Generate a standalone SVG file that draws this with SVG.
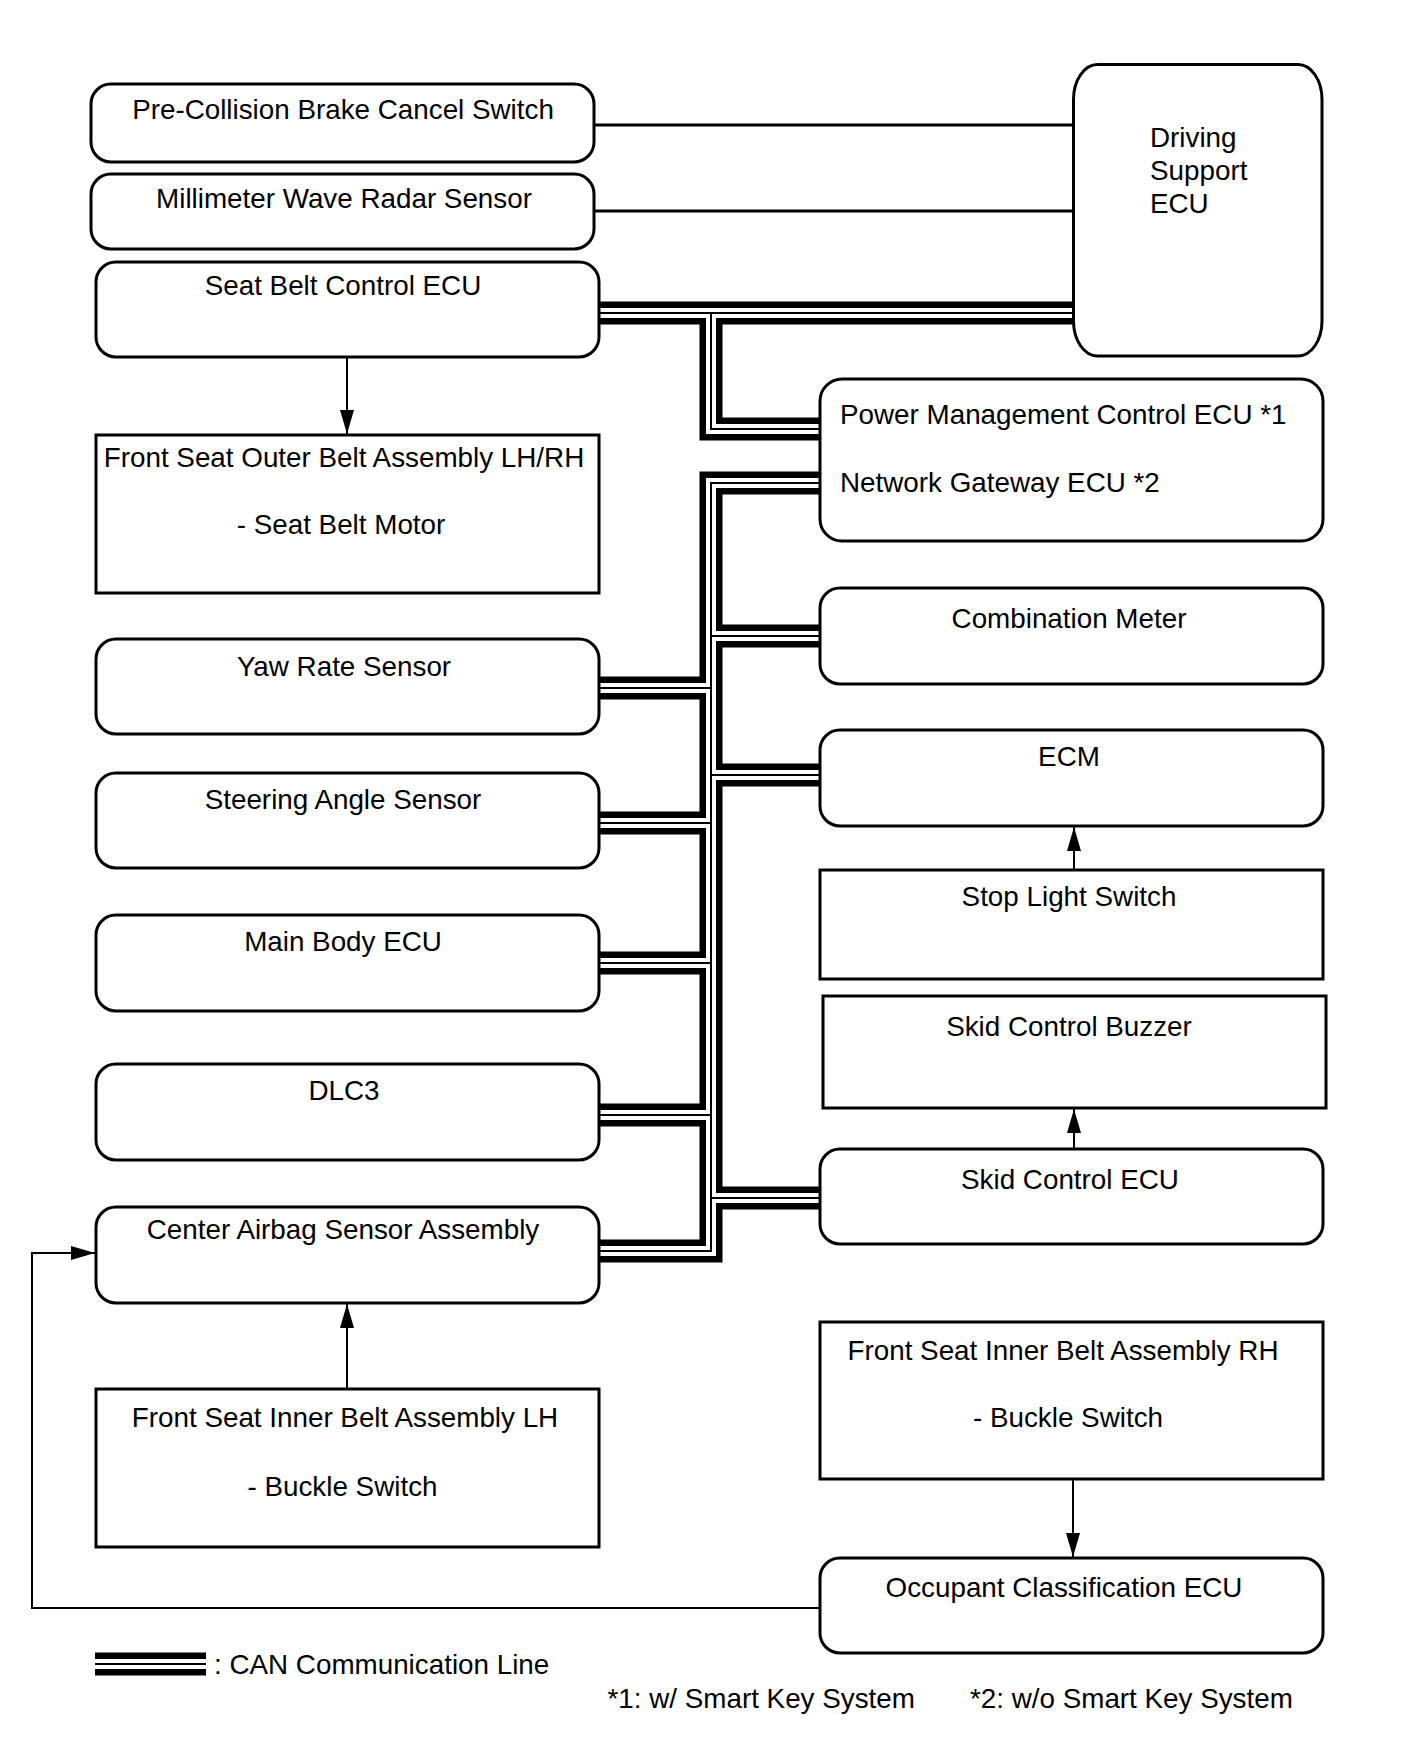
<svg xmlns="http://www.w3.org/2000/svg" xmlns:xlink="http://www.w3.org/1999/xlink" width="1424" height="1763" viewBox="0 0 1424 1763">
<style>
.box{fill:#fff;stroke:#000;stroke-width:3}
.t{font-family:"Liberation Sans",Arial,Helvetica,sans-serif;font-size:27.8px;fill:#000}
.c{text-anchor:middle}
.link{fill:none;stroke:#000;stroke-width:3}
.arr{fill:none;stroke:#000;stroke-width:2}
.canB{fill:none;stroke:#000;stroke-width:23;stroke-linejoin:miter}
.canW{fill:none;stroke:#fff;stroke-width:10;stroke-linejoin:miter}
.canT{fill:none;stroke:#000;stroke-width:2;stroke-linejoin:miter}
</style>
<defs>
<marker id="ah" markerUnits="userSpaceOnUse" viewBox="0 0 24 14" refX="24" refY="7" markerWidth="24" markerHeight="14" orient="auto">
<path d="M0,0 L24,7 L0,14 Z" fill="#000"/>
</marker>
<path id="bus" d="M599,313 H1074 M711,313 V429 H820 M820,483 H711 V1251 H599 M711,636 H820 M711,775 H820 M711,1198 H820 M711,688 H599 M711,823 H599 M711,963 H599 M711,1115 H599 M95,1664 H206"/>
</defs>
<rect width="1424" height="1763" fill="#fff"/>
<g id="connectors">
<use xlink:href="#bus" class="canB"/>
<use xlink:href="#bus" class="canW"/>
<use xlink:href="#bus" class="canT"/>
<line class="link" x1="594" y1="125" x2="1074" y2="125"/>
<line class="link" x1="594" y1="211" x2="1074" y2="211"/>
<line class="arr" x1="347" y1="357" x2="347" y2="434" marker-end="url(#ah)"/>
<line class="arr" x1="347" y1="1389" x2="347" y2="1304" marker-end="url(#ah)"/>
<line class="arr" x1="1074" y1="870" x2="1074" y2="827" marker-end="url(#ah)"/>
<line class="arr" x1="1074" y1="1149" x2="1074" y2="1109" marker-end="url(#ah)"/>
<line class="arr" x1="1073" y1="1479" x2="1073" y2="1557" marker-end="url(#ah)"/>
<path class="arr" d="M820,1608 H32 V1253 H95" marker-end="url(#ah)"/>
</g>
<g id="pre-collision"><rect class="box" x="91" y="84" width="503" height="78" rx="20"/><text class="t c" x="343" y="118.5">Pre-Collision Brake Cancel Switch</text></g>
<g id="millimeter"><rect class="box" x="91" y="174" width="503" height="75" rx="20"/><text class="t c" x="344" y="208">Millimeter Wave Radar Sensor</text></g>
<g id="seatbelt-ecu"><rect class="box" x="96" y="262" width="503" height="95" rx="20"/><text class="t c" x="343" y="295">Seat Belt Control ECU</text></g>
<g id="outer-belt"><rect class="box" x="96" y="435" width="503" height="158"/><text class="t c" x="344" y="467">Front Seat Outer Belt Assembly LH/RH</text><text class="t c" x="341" y="534">- Seat Belt Motor</text></g>
<g id="yaw"><rect class="box" x="96" y="639" width="503" height="95" rx="20"/><text class="t c" x="344" y="675.5">Yaw Rate Sensor</text></g>
<g id="steering"><rect class="box" x="96" y="773" width="503" height="95" rx="20"/><text class="t c" x="343" y="809">Steering Angle Sensor</text></g>
<g id="main-body"><rect class="box" x="96" y="915" width="503" height="96" rx="20"/><text class="t c" x="343" y="951">Main Body ECU</text></g>
<g id="dlc3"><rect class="box" x="96" y="1064" width="503" height="96" rx="20"/><text class="t c" x="344" y="1099.5">DLC3</text></g>
<g id="airbag"><rect class="box" x="96" y="1207" width="503" height="96" rx="20"/><text class="t c" x="343" y="1239">Center Airbag Sensor Assembly</text></g>
<g id="inner-lh"><rect class="box" x="96" y="1389" width="503" height="158"/><text class="t c" x="345" y="1427">Front Seat Inner Belt Assembly LH</text><text class="t c" x="342.5" y="1495.5">- Buckle Switch</text></g>
<g id="driving-support"><rect class="box" x="1073.5" y="64.5" width="248.5" height="291.5" rx="24" ry="35"/><text class="t" x="1150" y="147">Driving</text><text class="t" x="1150" y="180">Support</text><text class="t" x="1150" y="213">ECU</text></g>
<g id="power-mgmt"><rect class="box" x="820" y="379" width="503" height="162" rx="22"/><text class="t" x="840" y="423.5">Power Management Control ECU *1</text><text class="t" x="840" y="492">Network Gateway ECU *2</text></g>
<g id="combination"><rect class="box" x="820" y="588" width="503" height="96" rx="20"/><text class="t c" x="1069" y="628">Combination Meter</text></g>
<g id="ecm"><rect class="box" x="820" y="730" width="503" height="96" rx="20"/><text class="t c" x="1069" y="765.5">ECM</text></g>
<g id="stop-light"><rect class="box" x="820" y="870" width="503" height="109"/><text class="t c" x="1069" y="906">Stop Light Switch</text></g>
<g id="skid-buzzer"><rect class="box" x="823" y="996" width="503" height="112"/><text class="t c" x="1069" y="1035.5">Skid Control Buzzer</text></g>
<g id="skid-ecu"><rect class="box" x="820" y="1149" width="503" height="95" rx="20"/><text class="t c" x="1070" y="1188.5">Skid Control ECU</text></g>
<g id="inner-rh"><rect class="box" x="820" y="1322" width="503" height="157"/><text class="t c" x="1063" y="1359.5">Front Seat Inner Belt Assembly RH</text><text class="t c" x="1068" y="1427">- Buckle Switch</text></g>
<g id="occupant"><rect class="box" x="820" y="1558" width="503" height="95" rx="20"/><text class="t c" x="1064" y="1597">Occupant Classification ECU</text></g>
<g id="legend"><text class="t" x="214" y="1673.5">: CAN Communication Line</text><text class="t" x="607.5" y="1708">*1: w/ Smart Key System</text><text class="t" x="970" y="1708">*2: w/o Smart Key System</text></g>
</svg>
